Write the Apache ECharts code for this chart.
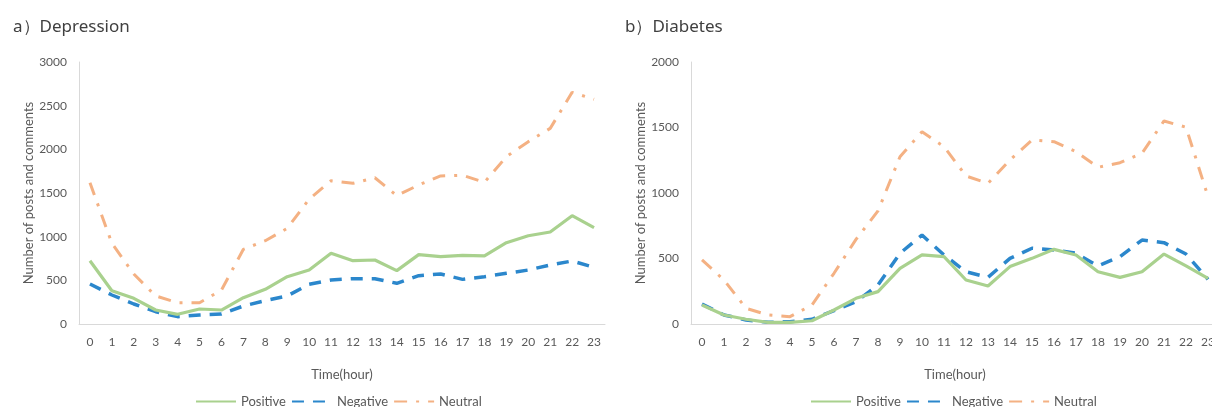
<!DOCTYPE html>
<html>
<head>
<meta charset="utf-8">
<script src="https://cdn.jsdelivr.net/npm/echarts@6/dist/echarts.min.js"></script>
<style>
html,body{margin:0;padding:0;background:#fff;}
#chart{width:1212px;height:407px;}
</style>
</head>
<body>
<div id="chart"></div>
<script>
const hours = ['0','1','2','3','4','5','6','7','8','9','10','11','12','13','14','15','16','17','18','19','20','21','22','23'];
const seriesNames = ['Positive','Negative','Neutral'];
const titles = ['a）Depression','b）Diabetes'];

const depPositive = [725,381,294,160,111,172,160,301,397,542,618,809,725,733,611,794,771,786,779,931,1011,1053,1240,1103];
const depNegative = [458,332,229,141,84,103,115,206,267,321,454,504,519,519,466,553,573,511,542,580,618,676,721,649];
const depNeutral  = [1618,924,573,321,244,244,389,855,954,1095,1430,1640,1611,1675,1470,1592,1695,1703,1622,1916,2088,2240,2653,2573];

const diaPositive = [145,69,36,13,13,25,107,196,247,425,527,514,336,290,438,501,570,527,399,356,399,534,443,349];
const diaNegative = [153,69,31,13,18,36,102,170,298,540,679,527,399,356,501,578,565,540,443,514,641,621,534,341];
const diaNeutral  = [489,336,120,69,56,145,387,646,863,1277,1468,1354,1130,1074,1252,1405,1392,1315,1196,1231,1303,1550,1502,972];

const FONT = 'Lato, "Noto Sans", sans-serif';
const colors = ['#a9d18e','#2b87cc','#f4b183'];
const styles = [
  {width:3.2, type:'solid'},
  {width:3.5, type:[12,9]},
  {width:3, type:[13,9,3,9]}
];

function makeSeries(idx, data){
  return data.map((d,i)=>({
    name: seriesNames[i],
    type:'line',
    xAxisIndex: idx, yAxisIndex: idx,
    data: d,
    showSymbol:false, symbol:'none',
    color: colors[i],
    lineStyle:{color:colors[i], width:styles[i].width, type:styles[i].type},
    z: 3 - i
  }));
}

const grids = [
  {left:79, top:62, width:526, height:262, outerBoundsMode:'none', containLabel:false},
  {left:691, top:62, width:528, height:262, outerBoundsMode:'none', containLabel:false}
];

function xAx(i){
  return {
    type:'category', gridIndex:i, data:hours, boundaryGap:true,
    axisTick:{show:false},
    axisLine:{lineStyle:{color:'#d9d9d9', width:1}},
    axisLabel:{color:'#595959', fontSize:12, fontFamily:FONT, margin:12, interval:0},
    name:'Time(hour)', nameLocation:'middle', nameGap:44,
    nameTextStyle:{color:'#595959', fontSize:13, fontFamily:FONT}
  };
}
function yAx(i, max){
  return {
    type:'value', gridIndex:i, min:0, max:max, interval:500,
    axisLine:{show:true, lineStyle:{color:'#d9d9d9', width:1}},
    axisTick:{show:false},
    splitLine:{show:false},
    axisLabel:{color:'#595959', fontSize:12, fontFamily:FONT, margin:12, formatter:(v)=>String(v)},
    name:'Number of posts and comments', nameLocation:'middle', nameGap:44,
    nameTextStyle:{color:'#595959', fontSize:13, fontFamily:FONT}
  };
}

const chart = echarts.init(document.getElementById('chart'), null, {renderer:'canvas'});
chart.setOption({
  animation:false,
  backgroundColor:'#ffffff',
  title: titles.map((t,i)=>({
    text:t, left: i===0 ? 8 : 620, top: 14,
    textStyle:{color:'#404040', fontSize:17, fontWeight:'normal', fontFamily:'"Noto Sans", sans-serif'}
  })),
  legend: [190, 805].map(x=>({
    data: seriesNames, left:x, top:390, orient:'horizontal',
    itemWidth:40, itemHeight:3, itemGap:5,
    itemStyle:{color:'rgba(0,0,0,0)', borderWidth:0, opacity:0},
    textStyle:{color:'#595959', fontSize:13, fontFamily:FONT, padding:[0,0,0,0]},
    selectedMode:false
  })),
  grid: grids,
  xAxis:[xAx(0), xAx(1)],
  yAxis:[yAx(0,3000), yAx(1,2000)],
  series:[...makeSeries(0,[depPositive,depNegative,depNeutral]), ...makeSeries(1,[diaPositive,diaNegative,diaNeutral])]
});
</script>
</body>
</html>
